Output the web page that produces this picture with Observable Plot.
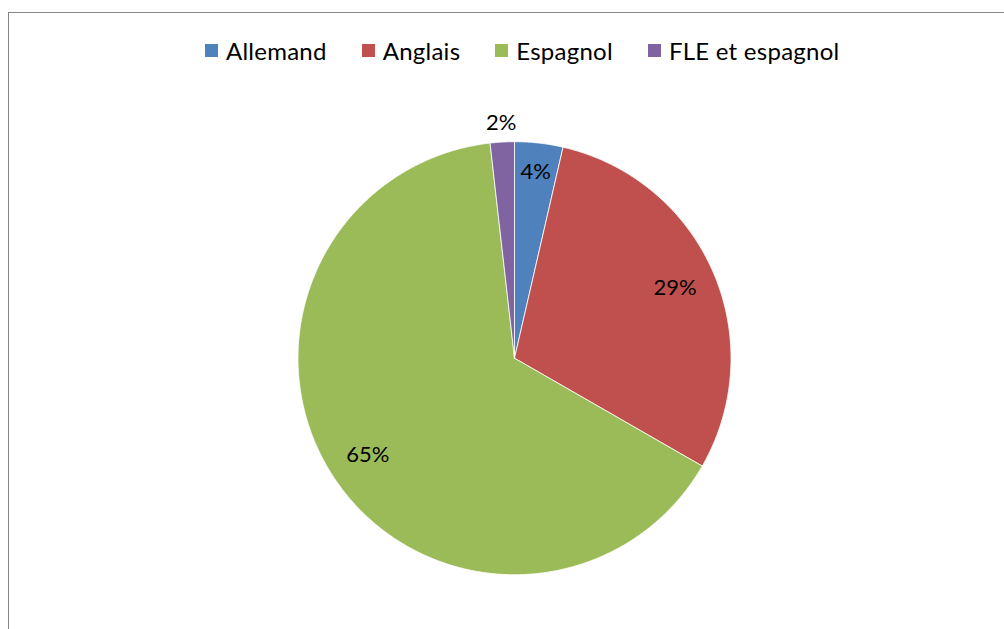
<!DOCTYPE html>
<html>
<head>
<meta charset="utf-8">
<script src="https://cdn.jsdelivr.net/npm/d3@7"></script>
<script src="https://cdn.jsdelivr.net/npm/@observablehq/plot@0.6"></script>
<style>
  html, body { margin: 0; padding: 0; background: #fff; width: 1004px; height: 629px; overflow: hidden; }
  body { position: relative; font-family: Lato, "Open Sans", sans-serif; }
  #frame { position: absolute; left: 8px; top: 12px; width: 1200px; height: 800px; border-left: 1px solid #868686; border-top: 1px solid #868686; }
  #legend { position: absolute; left: 0; top: 34px; width: 1004px; height: 32px; }
  #legend .leg-swatches { margin: 0; padding-left: 205px; font-family: Lato, sans-serif; font-size: 24px; letter-spacing: 0.25px; color: #000; line-height: 32px; white-space: nowrap; }
  #legend .leg-swatch { margin-right: 35px !important; }
  #legend .leg-swatch svg { margin-right: 8px !important; }
  #chart { position: absolute; left: 0; top: 90px; }
</style>
</head>
<body>
<div id="frame"></div>
<div id="legend"></div>
<div id="chart"></div>
<script>
const categories = ["Allemand", "Anglais", "Espagnol", "FLE et espagnol"];
const values = [3.6, 29.7, 64.9, 1.8];
const labels = ["4%", "29%", "65%", "2%"];
const colors = ["#4F81BD", "#C0504D", "#9BBB59", "#8064A2"];

const radiusPx = 216.5;
const fontPx = 22;

const arcs = d3.pie().sort(null).value(d => d)(values);

// polygon points of each slice in unit coordinates (angle 0 at top, clockwise)
const slicePoints = [];
arcs.forEach((a, i) => {
  const cat = categories[i];
  slicePoints.push({cat, x: 0, y: 0});
  const n = Math.max(2, Math.ceil((a.endAngle - a.startAngle) / (Math.PI / 360)));
  for (let k = 0; k <= n; k++) {
    const t = a.startAngle + (a.endAngle - a.startAngle) * k / n;
    slicePoints.push({cat, x: Math.sin(t), y: Math.cos(t)});
  }
  slicePoints.push({cat, x: 0, y: 0});
});

// "best fit" label placement: inside the slice, box kept ~inset from the edge; tiny slices outside
const labelPoints = arcs.map((a, i) => {
  const mid = (a.startAngle + a.endAngle) / 2;
  const s = Math.sin(mid), c = Math.cos(mid);
  const halfW = labels[i].length * fontPx * 0.33, halfH = fontPx * 0.48;
  const boxReach = Math.abs(halfW * s) + Math.abs(halfH * c);
  let dist;
  if (values[i] / d3.sum(values) < 0.03) dist = radiusPx + 8 + boxReach;
  else dist = radiusPx - 17 - boxReach;
  const f = dist / radiusPx;
  return {cat: categories[i], text: labels[i], x: f * s, y: f * c};
});

const color = {domain: categories, range: colors};

const chart = Plot.plot({
  width: 1004,
  height: 539,
  marginLeft: 297.5,
  marginRight: 273.5,
  marginTop: 51.2,
  marginBottom: 54.8,
  x: {domain: [-1, 1], axis: null},
  y: {domain: [-1, 1], axis: null},
  color,
  style: {background: "transparent", overflow: "visible"},
  marks: [
    Plot.line(slicePoints, {x: "x", y: "y", z: "cat", fill: "cat", stroke: "#fff", strokeWidth: 0.8, curve: "linear-closed"}),
    Plot.text(labelPoints, {x: "x", y: "y", text: "text", fill: "#000", fontSize: fontPx, fontFamily: "Lato, sans-serif"})
  ]
});
document.getElementById("chart").appendChild(chart);

const legend = Plot.legend({color, legend: "swatches", swatchSize: 13, className: "leg"});
document.getElementById("legend").appendChild(legend);
</script>
</body>
</html>
